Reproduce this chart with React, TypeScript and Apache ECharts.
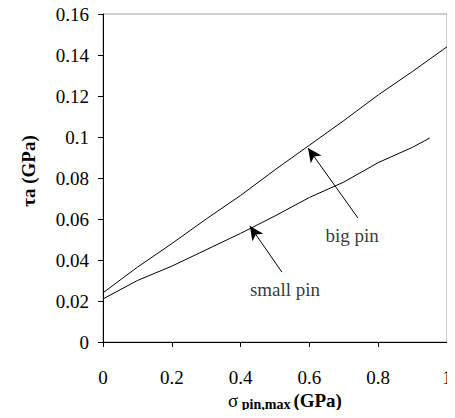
import React, { useEffect, useRef } from "react";
import * as echarts from "echarts";

const bigPinX = [0, 0.1, 0.2, 0.3, 0.4, 0.5, 0.6, 0.7, 0.8, 0.9, 1.0];
const bigPinY = [0.024, 0.0365, 0.048, 0.060, 0.0715, 0.084, 0.096, 0.108, 0.1205, 0.132, 0.144];
const smallPinX = [0, 0.1, 0.2, 0.3, 0.4, 0.5, 0.6, 0.7, 0.8, 0.9, 0.95];
const smallPinY = [0.021, 0.030, 0.037, 0.045, 0.053, 0.0615, 0.0705, 0.078, 0.0875, 0.095, 0.0995];

// annotation arrows: [tailX, tailY, tipX, tipY]
const bigPinArrow = [0.741, 0.0605, 0.596, 0.0946];
const smallPinArrow = [0.52, 0.0341, 0.427, 0.0566];
const annotationLabels = [
  { name: "big pin", value: [0.724, 0.052] },
  { name: "small pin", value: [0.529, 0.0254] },
];

const FONT = "Liberation Serif";

export default function App() {
  const ref = useRef<HTMLDivElement>(null);
  useEffect(() => {
    if (!ref.current) return;
    const chart = echarts.init(ref.current, undefined, { renderer: "svg" });
    const zip = (xs: number[], ys: number[]) => xs.map((x, i) => [x, ys[i]]);
    const arrow = (a: number[]) => [
      { coord: [a[0], a[1]], symbol: "none" },
      { coord: [a[2], a[3]], symbol: "arrow" },
    ];
    chart.setOption({
      animation: false,
      textStyle: { fontFamily: FONT },
      grid: {
        left: 103,
        right: 8,
        top: 14,
        bottom: 76,
        show: true,
        borderColor: "#9a9a9a",
        borderWidth: 1,
      },
      xAxis: {
        type: "value",
        min: 0,
        max: 1,
        interval: 0.2,
        splitLine: { show: false },
        axisLine: { lineStyle: { color: "#000", width: 1 } },
        axisTick: { show: true, length: 5, lineStyle: { color: "#000" } },
        axisLabel: { color: "#000", fontSize: 19, fontFamily: FONT, margin: 26, showMaxLabel: true, showMinLabel: true },
        name: "{s|σ}{sub| pin,max} {b|(GPa)}",
        nameLocation: "middle",
        nameGap: 47,
        nameMoveOverlap: false,
        nameTextStyle: {
          padding: [0, 0, 0, 20],
          rich: {
            s: { fontSize: 19, fontFamily: FONT, color: "#000" },
            sub: { fontSize: 14, fontWeight: "bold", fontFamily: FONT, color: "#000", padding: [8, 0, 0, 0] },
            b: { fontSize: 19, fontWeight: "bold", fontFamily: FONT, color: "#000" },
          },
        },
      },
      yAxis: {
        type: "value",
        min: 0,
        max: 0.16,
        interval: 0.02,
        splitLine: { show: false },
        axisLine: { show: true, lineStyle: { color: "#000", width: 1 } },
        axisTick: { show: true, length: 5, lineStyle: { color: "#000" } },
        axisLabel: { color: "#000", fontSize: 19, fontFamily: FONT, margin: 14 },
        name: "τa (GPa)",
        nameLocation: "middle",
        nameGap: 65,
        nameMoveOverlap: false,
        nameTextStyle: { fontSize: 19, fontWeight: "bold", fontFamily: FONT, color: "#000", padding: [0, 0, 0, 14] },
      },
      series: [
        {
          name: "big pin",
          type: "line",
          data: zip(bigPinX, bigPinY),
          showSymbol: false,
          lineStyle: { color: "#000", width: 1 },
          markLine: {
            silent: true,
            symbolSize: [10, 14],
            lineStyle: { color: "#000", width: 1, type: "solid" },
            label: { show: false },
            data: [arrow(bigPinArrow), arrow(smallPinArrow)],
          },
        },
        {
          name: "small pin",
          type: "line",
          data: zip(smallPinX, smallPinY),
          showSymbol: false,
          lineStyle: { color: "#000", width: 1 },
        },
        {
          type: "scatter",
          data: annotationLabels,
          symbolSize: 0,
          silent: true,
          label: {
            show: true,
            position: "inside",
            formatter: (p: any) => p.name,
            color: "#000",
            fontSize: 19,
            fontFamily: FONT,
          },
        },
      ],
    });
    return () => chart.dispose();
  }, []);
  return <div ref={ref} style={{ width: 455, height: 418, margin: -8 }} />;
}
